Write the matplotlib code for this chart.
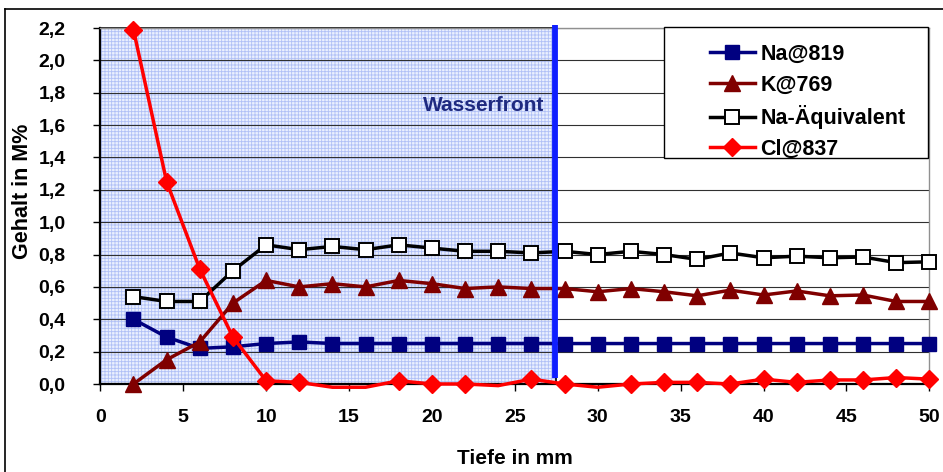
import matplotlib
matplotlib.use('Agg')

import numpy as np
import matplotlib.pyplot as plt
from matplotlib.patches import Rectangle
from matplotlib.lines import Line2D

plt.rcParams['font.family'] = ['Liberation Sans', 'DejaVu Sans']
plt.rcParams['font.weight'] = 'bold'
plt.rcParams['hatch.linewidth'] = 0.6

######################################################################
## DATA

depth = [2, 4, 6, 8, 10, 12, 14, 16, 18, 20, 22, 24, 26,
         28, 30, 32, 34, 36, 38, 40, 42, 44, 46, 48, 50]

na_819 = [0.40, 0.29, 0.22, 0.23, 0.25, 0.26, 0.25, 0.25, 0.25, 0.25, 0.25, 0.25, 0.25,
          0.25, 0.25, 0.25, 0.25, 0.25, 0.25, 0.25, 0.25, 0.25, 0.25, 0.25, 0.25]

k_769 = [0.00, 0.15, 0.26, 0.50, 0.64, 0.60, 0.62, 0.60, 0.64, 0.62, 0.59, 0.60, 0.59,
         0.59, 0.57, 0.59, 0.57, 0.545, 0.58, 0.55, 0.575, 0.545, 0.55, 0.51, 0.51]

na_aequiv = [0.54, 0.51, 0.51, 0.70, 0.86, 0.83, 0.85, 0.83, 0.86, 0.84, 0.82, 0.82, 0.81,
             0.82, 0.80, 0.82, 0.80, 0.77, 0.81, 0.78, 0.79, 0.78, 0.785, 0.75, 0.755]

cl_837 = [2.19, 1.25, 0.71, 0.29, 0.02, 0.01, -0.02, -0.02, 0.02, 0.00, 0.00, -0.01, 0.03,
          0.00, -0.02, 0.00, 0.01, 0.01, 0.00, 0.03, 0.01, 0.025, 0.025, 0.04, 0.03]

series_labels = ['Na@819', 'K@769', 'Na-Äquivalent', 'Cl@837']

wasserfront_x = 27.4
y_ticks = np.arange(0, 2.21, 0.2)
x_ticks = np.arange(0, 51, 5)

######################################################################

W, H = 943, 472
fig = plt.figure(figsize=(W / 100, H / 100), dpi=100)
ax = fig.add_axes([100.3 / W, 88 / H, 829 / W, 356 / H])

# shaded area up to the water front
ax.add_patch(Rectangle((0, 0), wasserfront_x + 0.1, 2.2, facecolor='#eaeffe',
                       edgecolor='#b0c0f6', hatch='+++++', lw=0, zorder=0.2))
ax.add_patch(Rectangle((0, 0), wasserfront_x + 0.1, 2.2, facecolor='none',
                       edgecolor='black', lw=1.2, zorder=2, clip_on=False))

# series
ax.plot(depth, na_819, color='#000080', lw=2.5, marker='s', ms=10,
        mfc='#000080', mec='#000080', label=series_labels[0], zorder=3, clip_on=False)
ax.plot(depth, k_769, color='#800000', lw=2.5, marker='^', ms=11,
        mfc='#800000', mec='#800000', label=series_labels[1], zorder=3.1, clip_on=False)
ax.plot(depth, na_aequiv, color='black', lw=2.5, marker='s', ms=9.5,
        mfc='white', mec='black', mew=1.4, label=series_labels[2], zorder=3.2, clip_on=False)
cl_marks = [i for i, v in enumerate(cl_837) if v >= 0]
ax.plot(depth, cl_837, color='#ff0000', lw=2.5, marker='D', ms=9.5,
        mfc='#ff0000', mec='#ff0000', markevery=cl_marks, label=series_labels[3],
        zorder=3.3, clip_on=False)

# water front line
ax.vlines(wasserfront_x, 0.04, 2.22, color='#0f1eff', lw=4.2, zorder=4, clip_on=False)
ax.text(26.8, 1.72, 'Wasserfront', ha='right', va='center', color='#1f2a80',
        fontsize=15, fontweight='bold')

# axes
ax.set_xlim(0, 50)
ax.set_ylim(0, 2.2)
ax.set_xticks(x_ticks)
ax.set_yticks(y_ticks)
ax.set_yticklabels([('%.1f' % v).replace('.', ',') for v in y_ticks])
ax.tick_params(direction='out', length=5, width=1, labelsize=14, color='black')
ax.tick_params(axis='y', pad=20)
ax.tick_params(axis='x', pad=13)
ax.yaxis.grid(True, color='#303030', lw=0.8)
ax.set_axisbelow(True)

for s in ['left', 'bottom']:
    ax.spines[s].set_color('black')
    ax.spines[s].set_linewidth(1.6)
for s in ['top', 'right']:
    ax.spines[s].set_color('#909090')
    ax.spines[s].set_linewidth(1.0)

ax.set_xlabel('Tiefe in mm', fontsize=15, fontweight='bold')
ax.xaxis.set_label_coords(515 / W, (H - 449.5) / H, transform=fig.transFigure)
ax.set_ylabel('Gehalt in M%', fontsize=15.5, fontweight='bold')
ax.yaxis.set_label_coords(33 / W, (H - 191) / H, transform=fig.transFigure)

# legend box drawn by hand
ax.add_patch(Rectangle((664 / W, (H - 158) / H), 264 / W, 131 / H,
                       transform=fig.transFigure, facecolor='white',
                       edgecolor='black', lw=1.0, zorder=5, clip_on=False))
leg = ax.legend(loc='upper left', bbox_to_anchor=(699 / W, (H - 33) / H),
                bbox_transform=fig.transFigure, frameon=False, borderpad=0,
                handlelength=2.1, handletextpad=0.25, labelspacing=0.45,
                prop={'size': 15.5, 'weight': 'bold'})
leg.set_zorder(6)

# outer frame
fig.add_artist(Line2D([5 / W, 5 / W], [0, (H - 9) / H], color='black', lw=1.2,
                      transform=fig.transFigure))
fig.add_artist(Line2D([5 / W, 1], [(H - 9) / H, (H - 9) / H], color='black', lw=1.2,
                      transform=fig.transFigure))

plt.savefig('out.png', dpi=100)
